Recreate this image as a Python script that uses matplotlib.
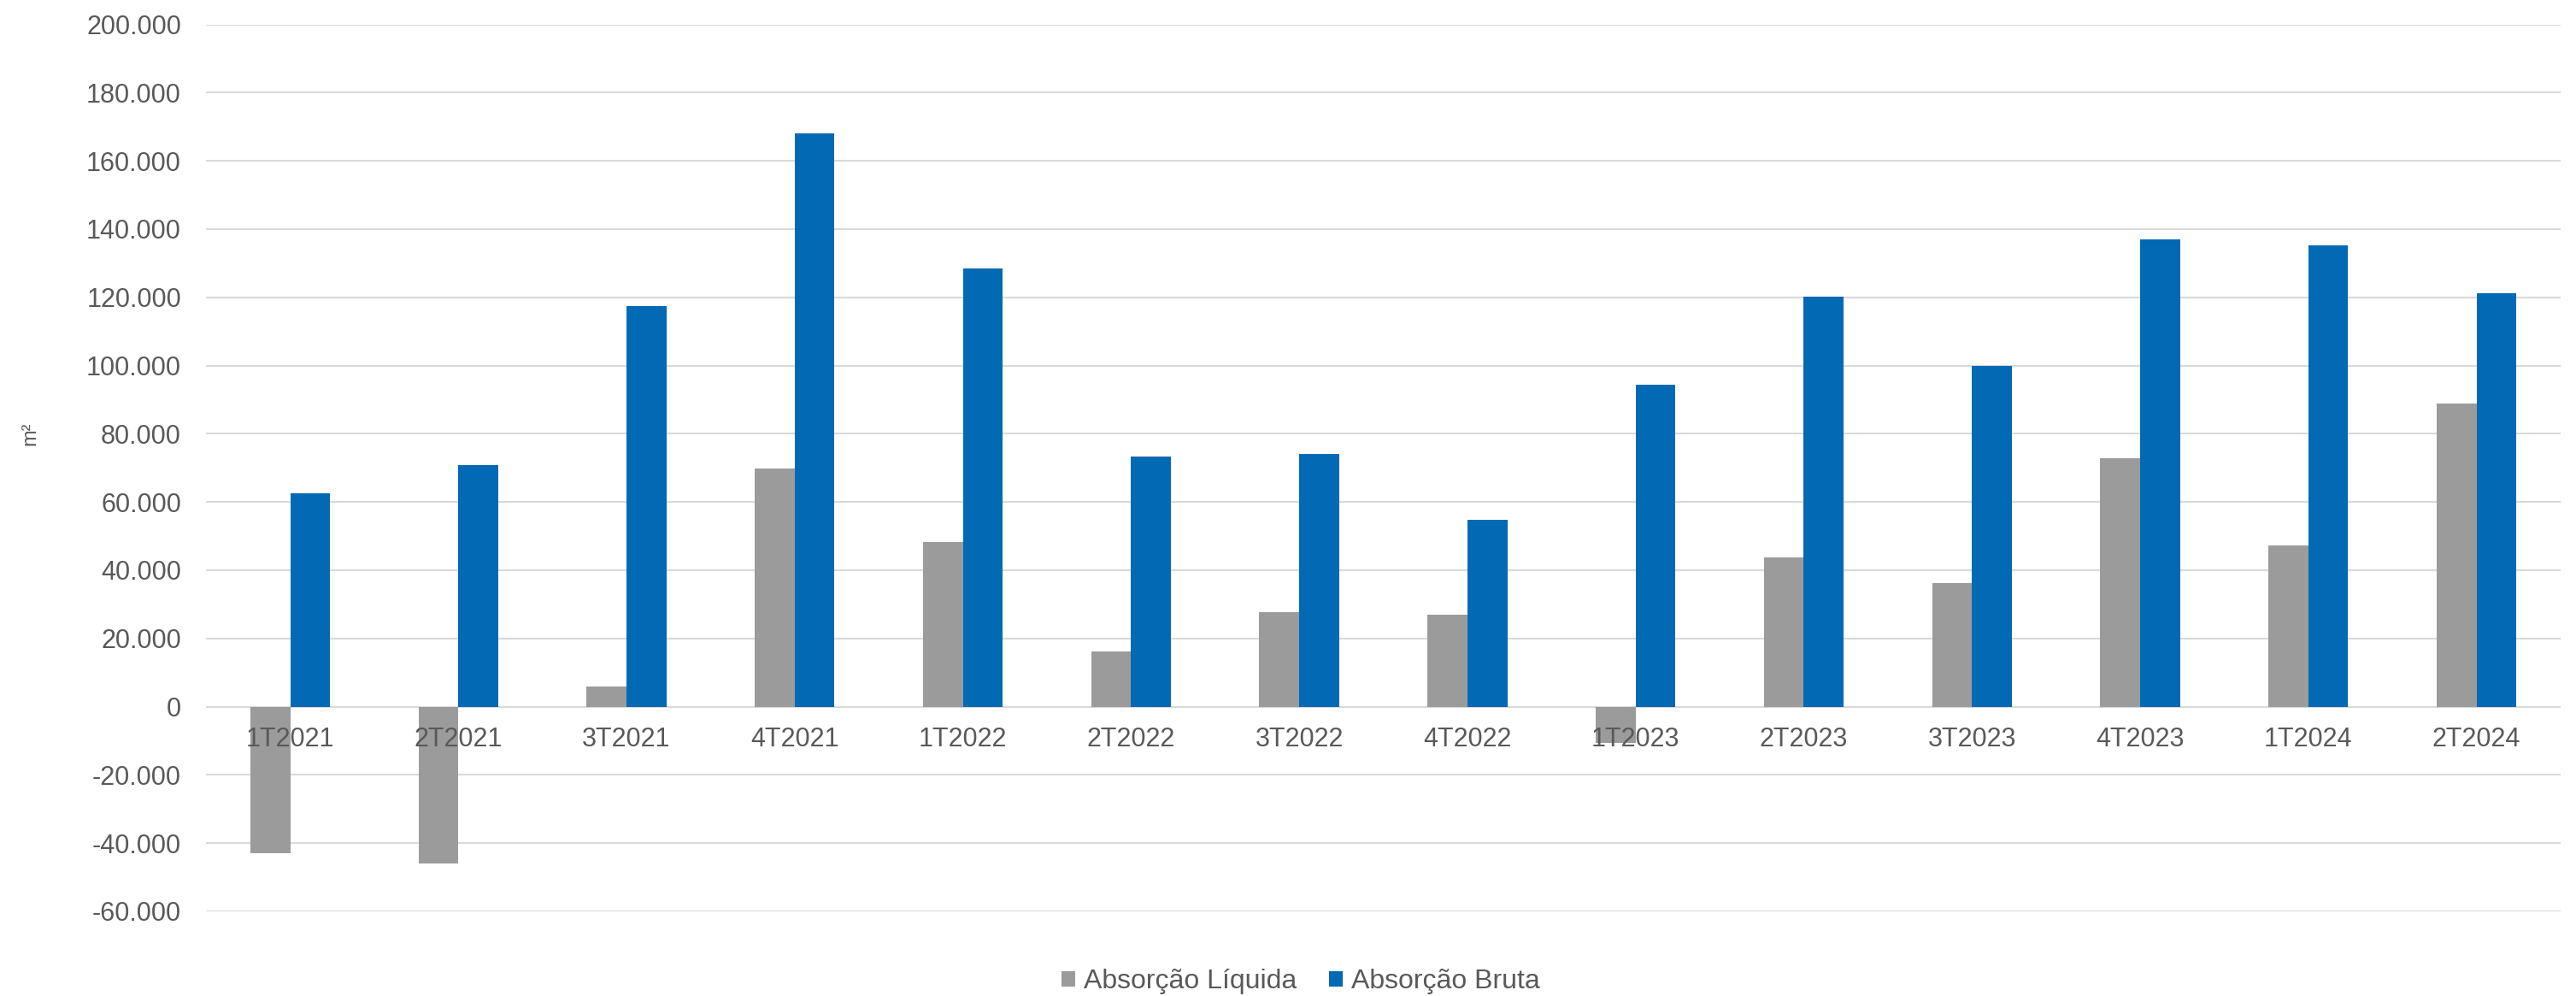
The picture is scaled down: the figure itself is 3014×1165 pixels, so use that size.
import matplotlib
matplotlib.use("Agg")
import matplotlib.pyplot as plt
import matplotlib.transforms as mtransforms
from matplotlib.ticker import FuncFormatter
import numpy as np

plt.rcParams['font.family'] = ['Liberation Sans', 'DejaVu Sans']

# Quarterly absorption, m²
quarters = ["1T2021", "2T2021", "3T2021", "4T2021",
            "1T2022", "2T2022", "3T2022", "4T2022",
            "1T2023", "2T2023", "3T2023", "4T2023",
            "1T2024", "2T2024"]
absorcao_liquida = [-43000, -45900, 5800, 69700,
                    48300, 16200, 27600, 27000,
                    -10700, 43800, 36300, 72900,
                    47300, 88800]
absorcao_bruta = [62600, 70800, 117400, 168100,
                  128500, 73400, 74200, 54700,
                  94500, 120300, 100000, 137000,
                  135200, 121200]
series_names = ["Absorção Líquida", "Absorção Bruta"]
y_ticks = list(range(-60000, 200001, 20000))

GRAY = "#9b9b9b"
BLUE = "#026ab4"
TEXT = "#595959"
GRID = "#d9d9d9"

fig = plt.figure(figsize=(30.14, 11.65), dpi=100)
ax = fig.add_axes([0.080, 0.085, 0.914, 0.8905])

x = np.arange(len(quarters))
w = 0.237
ax.bar(x - w / 2, absorcao_liquida, width=w, color=GRAY, label=series_names[0], zorder=2)
ax.bar(x + w / 2, absorcao_bruta, width=w, color=BLUE, label=series_names[1], zorder=2)

ax.set_xlim(-0.5, len(quarters) - 0.5)
ax.set_ylim(-60000, 200000)
ax.set_yticks(y_ticks)
ax.yaxis.set_major_formatter(FuncFormatter(lambda v, p: f"{int(v):,}".replace(",", ".")))
ax.tick_params(axis='y', length=0, pad=21, labelsize=22, labelcolor=TEXT)
ax.set_xticks([])
ax.set_axisbelow(True)
ax.grid(axis='y', color=GRID, linewidth=1.5)
for s in ax.spines.values():
    s.set_visible(False)

# Category labels sit just under the zero line, above the bars
off = mtransforms.offset_copy(ax.transData, fig=fig, x=0, y=-38, units='dots')
for xi, q in zip(x, quarters):
    ax.text(xi, 0, q, transform=off, ha='center', va='center',
            fontsize=22, color=TEXT, zorder=5)

fig.text(35 / 3014, 1 - 507 / 1165, "m²", rotation=90, ha='center', va='center',
         fontsize=17, color=TEXT)

leg = fig.legend(loc='center', bbox_to_anchor=(1522 / 3014, 1 - 1148 / 1165),
                 ncol=2, frameon=False, fontsize=23, handlelength=0.5,
                 handleheight=0.5, handletextpad=0.3, columnspacing=1.2)
for t in leg.get_texts():
    t.set_color(TEXT)

fig.savefig("out.png", dpi=100, facecolor="white")
